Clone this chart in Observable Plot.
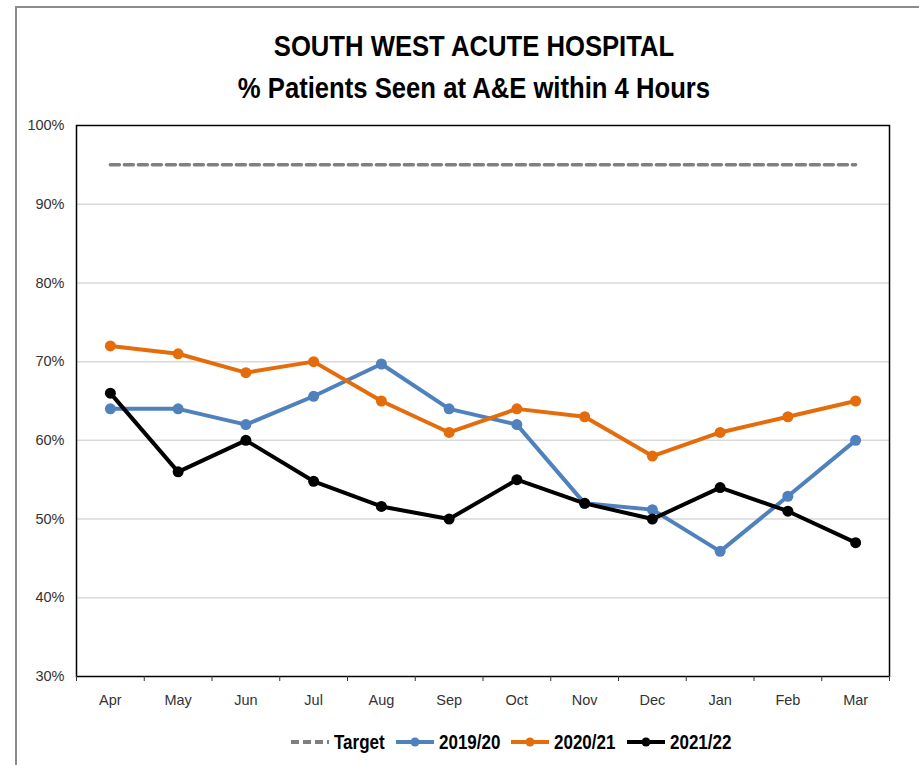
<!DOCTYPE html>
<html>
<head>
<meta charset="utf-8">
<script src="https://cdn.jsdelivr.net/npm/d3@7"></script>
<script src="https://cdn.jsdelivr.net/npm/@observablehq/plot@0.6"></script>
<style>
  html, body { margin: 0; padding: 0; background: #fff; }
  #wrap { position: relative; width: 919px; height: 765px; overflow: hidden; font-family: "Liberation Sans", Arial, sans-serif; }
  #border { position: absolute; left: 15px; top: 6px; width: 940px; height: 800px; border-top: 2px solid #8c8c8c; border-left: 2px solid #8c8c8c; box-sizing: border-box; }
  #title { position: absolute; left: 0; width: 948px; top: 25px; text-align: center; font-weight: bold; font-size: 30px; line-height: 42px; color: #000; }
  #title div { transform: scaleX(0.855); transform-origin: center; }
  #chart { position: absolute; left: 0; top: 0; }
  #legend { position: absolute; left: 0; top: 731px; width: 919px; display: flex; justify-content: center; padding-left: 112px; box-sizing: border-box; font-weight: bold; font-size: 20px; line-height: 22px; }
  .item { display: flex; align-items: center; margin-right: 10px; }
  .item svg { margin-right: 4px; }
  .item span { display: inline-block; transform: scaleX(0.85); transform-origin: left center; }
</style>
</head>
<body>
<div id="wrap">
  <div id="border"></div>
  <div id="chart"></div>
  <div id="title"><div>SOUTH WEST ACUTE HOSPITAL</div><div>% Patients Seen at A&amp;E within 4 Hours</div></div>
  <div id="legend"></div>
</div>
<script>
const months = ["Apr","May","Jun","Jul","Aug","Sep","Oct","Nov","Dec","Jan","Feb","Mar"];
const target = [95,95,95,95,95,95,95,95,95,95,95,95];
const y2019 = [64,64,62,65.6,69.7,64,62,52,51.2,45.9,52.9,60];
const y2020 = [72,71,68.6,70,65,61,64,63,58,61,63,65];
const y2021 = [66,56,60,54.8,51.6,50,55,52,50,54,51,47];
const yTicks = [30,40,50,60,70,80,90,100];

const seriesNames = ["Target","2019/20","2020/21","2021/22"];
const seriesColors = ["#808080","#4f81bd","#e46c0a","#000000"];

function rows(vals, name) { return vals.map((v, i) => ({i, v, name})); }
const dTarget = rows(target, "Target");
const d2019 = rows(y2019, "2019/20");
const d2020 = rows(y2020, "2020/21");
const d2021 = rows(y2021, "2021/22");

const idx = months.map((m, i) => i);
const bounds = d3.range(months.length + 1).map(i => i - 0.5);

const plot = Plot.plot({
  width: 919,
  height: 765,
  marginLeft: 76,
  marginRight: 30,
  marginTop: 125,
  marginBottom: 89,
  style: { fontFamily: '"Liberation Sans", Arial, sans-serif', background: "transparent" },
  x: { type: "linear", domain: [-0.5, months.length - 0.5] },
  y: { domain: [30, 100] },
  marks: [
    Plot.ruleY(yTicks.slice(1, -1), { stroke: "#d9d9d9", strokeWidth: 1.5 }),
    Plot.frame({ stroke: "#000", strokeWidth: 1.5 }),
    Plot.axisY({ ticks: yTicks, tickFormat: d => d + "%", tickSize: 0, tickPadding: 12, fontSize: 14.5, fill: "#333", label: null }),
    Plot.axisX({ ticks: bounds, tickFormat: () => "", tickSize: 5, stroke: "#333", label: null }),
    Plot.axisX({ ticks: idx, tickFormat: i => months[i], tickSize: 0, tickPadding: 18, fontSize: 14.5, fill: "#333", label: null }),
    Plot.line(dTarget, { x: "i", y: "v", stroke: seriesColors[0], strokeWidth: 3.5, strokeDasharray: "9,5" }),
    Plot.line(d2019, { x: "i", y: "v", stroke: seriesColors[1], strokeWidth: 4 }),
    Plot.dot(d2019, { x: "i", y: "v", fill: seriesColors[1], r: 5.5 }),
    Plot.line(d2020, { x: "i", y: "v", stroke: seriesColors[2], strokeWidth: 4 }),
    Plot.dot(d2020, { x: "i", y: "v", fill: seriesColors[2], r: 5.5 }),
    Plot.line(d2021, { x: "i", y: "v", stroke: seriesColors[3], strokeWidth: 4 }),
    Plot.dot(d2021, { x: "i", y: "v", fill: seriesColors[3], r: 5.5 })
  ]
});
document.getElementById("chart").appendChild(plot);

const legend = document.getElementById("legend");
seriesNames.forEach((name, k) => {
  const item = document.createElement("div");
  item.className = "item";
  const dashed = k === 0;
  const sw = `<svg width="40" height="14"><line x1="1" y1="7" x2="39" y2="7" stroke="${seriesColors[k]}" stroke-width="4" ${dashed ? 'stroke-dasharray="8,4"' : ''}/>${dashed ? '' : `<circle cx="20" cy="7" r="4.5" fill="${seriesColors[k]}"/>`}</svg>`;
  item.innerHTML = sw + `<span>${name}</span>`;
  legend.appendChild(item);
});
legend.querySelectorAll(".item span").forEach(s => {
  const w = s.getBoundingClientRect().width / 0.85;
  s.style.marginRight = (-(w * 0.15)) + "px";
});
</script>
</body>
</html>
